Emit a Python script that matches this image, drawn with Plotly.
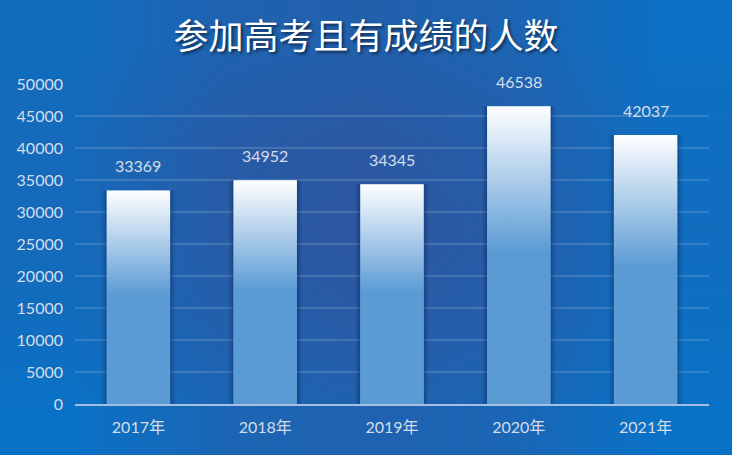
import plotly.graph_objects as go

# ---- data ----
years = ["2017年", "2018年", "2019年", "2020年", "2021年"]
counts = [33369, 34952, 34345, 46538, 42037]
y_ticks = [0, 5000, 10000, 15000, 20000, 25000, 30000, 35000, 40000, 45000, 50000]
title_text = "参加高考且有成绩的人数"

# background shading grid (darkness 0..1), bottom row first
bg_dark = [
    [0.00, 0.45, 0.60, 0.45, 0.00],
    [0.20, 0.70, 0.85, 0.70, 0.10],
    [0.30, 0.82, 1.00, 0.80, 0.20],
    [0.30, 0.78, 0.92, 0.72, 0.15],
    [0.20, 0.58, 0.68, 0.52, 0.05],
]

W, H = 732, 455
xdom = [75 / W, 709 / W]
ydom = [(H - 404) / H, (H - 84) / H]
xpos = list(range(len(years)))
bar_w = 0.5
label_color = "#d6dde8"
font_fam = "Lato, Noto Sans CJK SC, sans-serif"

fig = go.Figure()

# background gradient on a full-page subplot (xy), drawn beneath the chart subplot (x2y2)
fig.add_trace(go.Heatmap(
    z=bg_dark, x=[0, 1, 2, 3, 4], y=[0, 1, 2, 3, 4],
    colorscale=[[0, "#0a72c6"], [1, "#2e57a0"]],
    zmin=0, zmax=1, zsmooth="best", showscale=False, hoverinfo="skip",
    xaxis="x", yaxis="y",
))

# soft shadows behind bars
for w, a in [(0.58, 0.08), (0.55, 0.12), (0.525, 0.18)]:
    fig.add_trace(go.Bar(
        x=xpos, y=counts, width=w, marker=dict(color=f"rgba(8,25,70,{a})", line=dict(width=0)),
        hoverinfo="skip", showlegend=False, xaxis="x2", yaxis="y2",
    ))

# main bars (solid base)
fig.add_trace(go.Bar(
    x=xpos, y=counts, width=bar_w, marker=dict(color="#5b9bd5", line=dict(width=0)),
    showlegend=False, xaxis="x2", yaxis="y2", name="人数",
))

# gradient overlay for each bar
for i, v in zip(xpos, counts):
    fig.add_trace(go.Scatter(
        x=[i - bar_w / 2, i + bar_w / 2, i + bar_w / 2, i - bar_w / 2, i - bar_w / 2],
        y=[0, 0, v, v, 0],
        mode="lines", line=dict(width=0), fill="toself",
        fillgradient=dict(type="vertical", start=0, stop=v,
                          colorscale=[[0, "#5b9bd5"], [0.51, "#5b9bd5"], [1, "#ffffff"]]),
        hoverinfo="skip", showlegend=False, xaxis="x2", yaxis="y2",
    ))

# value labels
for i, v in zip(xpos, counts):
    fig.add_annotation(x=i, y=v, xref="x2", yref="y2", text=str(v), showarrow=False,
                       yanchor="bottom", yshift=13,
                       font=dict(family=font_fam, size=16, color=label_color))

fig.update_layout(
    width=W, height=H,
    margin=dict(l=0, r=0, t=0, b=0, pad=0),
    paper_bgcolor="#0a72c6",
    plot_bgcolor="rgba(0,0,0,0)",
    barmode="overlay",
    showlegend=False,
    title=dict(text=title_text, x=0.5, xanchor="center", y=1 - 37 / H, yanchor="middle",
               automargin=False,
               font=dict(family="Noto Sans CJK SC", size=35, color="#ffffff",
                         shadow="2px 2px 3px rgba(0,0,0,0.55)")),
    xaxis=dict(domain=[0, 1], range=[-0.5, 4.5], visible=False, fixedrange=True, automargin=False),
    yaxis=dict(domain=[0, 1], range=[-0.5, 4.5], visible=False, fixedrange=True, automargin=False),
    xaxis2=dict(domain=xdom, anchor="y2", range=[-0.5, 4.5], automargin=False,
                tickmode="array", tickvals=xpos, ticktext=years,
                showgrid=False, zeroline=False,
                showline=True, linecolor="#a3c0e3", linewidth=2,
                ticks="", ticklabelstandoff=8,
                tickfont=dict(family=font_fam, size=16, color=label_color)),
    yaxis2=dict(domain=ydom, anchor="x2", range=[0, 50000], automargin=False,
                tickmode="array", tickvals=y_ticks, ticktext=[str(t) for t in y_ticks],
                showgrid=True, gridcolor="rgba(255,255,255,0.14)", gridwidth=1.5,
                zeroline=False, showline=False, ticks="", ticklabelstandoff=11,
                tickfont=dict(family=font_fam, size=16, color=label_color)),
)

fig.write_html(
    "out.html",
    config={"displayModeBar": False, "staticPlot": True},
    post_script="document.body.style.margin='0';document.body.style.padding='0';"
                "document.documentElement.style.overflow='hidden';"
                "var gd=document.getElementById('{plot_id}');"
                "Plotly.relayout(gd,{width:732,height:455});",
)
